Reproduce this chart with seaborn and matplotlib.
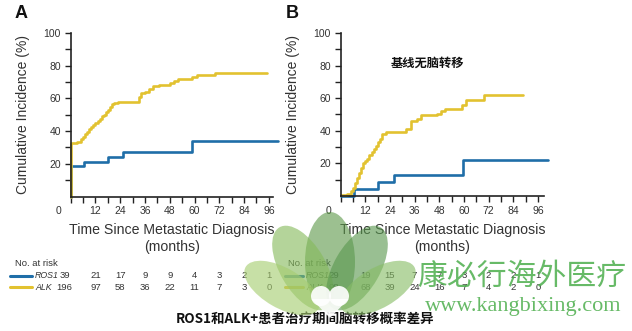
import numpy as np
import pandas as pd
import seaborn as sns
import matplotlib
matplotlib.use("Agg")
import matplotlib.pyplot as plt
import matplotlib.transforms as mtransforms
from matplotlib.patches import Ellipse, Polygon

# ---------------- data ----------------
a_ros1_t = [0, 0, 6.5, 18, 25.5, 59, 100.5]
a_ros1_v = [0, 18.5, 21, 24, 27.5, 34, 34]
a_alk_t = [0, 0, 3, 5, 6, 7, 8, 9, 10, 11, 12, 13, 14, 15, 16, 17, 18, 19, 20, 21, 23,
           33, 34, 36, 38, 40, 43, 46, 48, 50, 52, 59, 61, 70, 95]
a_alk_v = [0, 33, 33.5, 35, 36.5, 38, 39.5, 41, 42.5, 44, 45, 46, 47.5, 49, 50, 51.5, 53, 55, 56.5, 57, 58,
           61, 63, 64, 66, 67.5, 68, 68.5, 69.5, 70.5, 72, 73, 74.5, 75.5, 75.5]
b_ros1_t = [0, 6.5, 18.3, 26, 59.7, 101]
b_ros1_v = [0, 4, 8.8, 13, 22, 22]
b_alk_t = [0, 3, 5, 6, 7, 8, 9, 10, 11, 12, 13, 14, 15, 16, 17, 18, 19, 20, 22,
           32, 34, 37, 39, 47, 49, 51, 59, 61, 70, 89]
b_alk_v = [0.5, 1.5, 3, 5, 8, 11, 14, 17, 20, 21.5, 23, 25, 27, 29, 30.5, 33, 35, 38, 39.5,
           41, 46, 47.5, 49.5, 50.5, 52, 53.5, 56, 59, 62, 62]

risk_times = [0, 12, 24, 36, 48, 60, 72, 84, 96]
a_risk_ros1 = [39, 21, 17, 9, 9, 4, 3, 2, 1]
a_risk_alk = [196, 97, 58, 36, 22, 11, 7, 3, 0]
b_risk_ros1 = [29, 19, 15, 7, 7, 3, 2, 2, 1]
b_risk_alk = [98, 68, 39, 24, 16, 7, 4, 2, 0]

x_major = [0, 12, 24, 36, 48, 60, 72, 84, 96]
y_major = [20, 40, 60, 80, 100]

BLUE = "#1f6ea8"
YELLOW = "#e2c230"
TXT = "#333333"

W, H = 632, 331

sns.set_theme(style="white")
plt.rcParams["font.family"] = ["Liberation Sans", "DejaVu Sans"]
CJK = ["Noto Sans CJK SC", "DejaVu Sans"]

fig = plt.figure(figsize=(W / 100, H / 100), dpi=100)
fig.patch.set_facecolor("white")


def fx(px):
    return px / W


def fy(py):
    return 1 - py / H


panels = [
    dict(pos=[fx(70.7), fy(196.5), fx(202.3), 163.5 / H], xmax=98, letter="A", lx=21,
         ros1=(a_ros1_t, a_ros1_v), alk=(a_alk_t, a_alk_v),
         risk=(a_risk_ros1, a_risk_alk), nrx=15, linex=(10, 32), labx=35, x0=-3.0),
    dict(pos=[fx(340.7), fy(196), fx(203.3), 163 / H], xmax=99, letter="B", lx=292,
         ros1=(b_ros1_t, b_ros1_v), alk=(b_alk_t, b_alk_v),
         risk=(b_risk_ros1, b_risk_alk), nrx=288, linex=(285, 303), labx=306, x0=-3.2),
]

for p in panels:
    ax = fig.add_axes(p["pos"])
    df = pd.concat([
        pd.DataFrame({"t": p["ros1"][0], "v": p["ros1"][1], "g": "ROS1"}),
        pd.DataFrame({"t": p["alk"][0], "v": p["alk"][1], "g": "ALK"}),
    ], ignore_index=True)
    sns.lineplot(data=df, x="t", y="v", hue="g", palette={"ROS1": BLUE, "ALK": YELLOW},
                 estimator=None, sort=False, drawstyle="steps-post", linewidth=1.9,
                 legend=False, ax=ax, clip_on=False)
    ax.set_xlim(0, p["xmax"])
    ax.set_ylim(0, 100)
    for s in ["top", "right"]:
        ax.spines[s].set_visible(False)
    for s in ["left", "bottom"]:
        ax.spines[s].set_color("#222222")
        ax.spines[s].set_linewidth(1.2)
    ax.set_xticks(x_major)
    ax.set_xticks(np.arange(6, 97, 12), minor=True)
    ax.set_yticks(y_major)
    ax.set_yticks(np.arange(10, 100, 20), minor=True)
    ax.set_xticklabels([str(v) for v in x_major])
    ax.set_yticklabels([str(v) for v in y_major])
    ax.tick_params(axis="both", which="both", direction="out", length=4, width=1,
                   color="#222222", labelsize=7.5, labelcolor=TXT, pad=3)
    ax.tick_params(axis="x", which="both", bottom=True)
    ax.tick_params(axis="y", which="both", left=True)
    lbl0 = ax.get_xticklabels()[0]
    lbl0.set_transform(lbl0.get_transform() +
                       mtransforms.ScaledTranslation(-12 / 100, 0, fig.dpi_scale_trans))
    ax.set_xlabel("Time Since Metastatic Diagnosis\n(months)", fontsize=10.2, color=TXT,
                  linespacing=1.3, labelpad=5)
    ax.set_ylabel("Cumulative Incidence (%)", fontsize=10, color=TXT, labelpad=10)
    ax.patch.set_alpha(0)

    fig.text(fx(p["lx"]), fy(14), p["letter"], fontsize=13, fontweight="bold",
             color="#111111", ha="center", va="center")

    # risk table
    fig.text(fx(p["nrx"]), fy(264), "No. at risk", fontsize=6.8, color=TXT, ha="left", va="center")
    trans = mtransforms.blended_transform_factory(ax.transData, fig.transFigure)
    for row_y, name, col, vals in [(276, "ROS1", BLUE, p["risk"][0]), (287, "ALK", YELLOW, p["risk"][1])]:
        fig.add_artist(plt.Line2D([fx(p["linex"][0]), fx(p["linex"][1])], [fy(row_y), fy(row_y)],
                                  color=col, linewidth=2.2, transform=fig.transFigure))
        fig.text(fx(p["labx"]), fy(row_y), name, fontsize=6.3, style="italic", color=TXT,
                 ha="left", va="center")
        for t, v in zip(risk_times, vals):
            xx = t if t > 0 else p["x0"]
            fig.text(xx, fy(row_y), str(v), fontsize=6.8, color=TXT, ha="center", va="center",
                     transform=trans)

# annotation in panel B
fig.text(fx(427), fy(63), "基线无脑转移", fontsize=8.8, fontweight="bold", color="#111111",
         ha="center", va="center", family=CJK)

# watermark logo (translucent petals), drawn in pixel units via inches (dpi=100)
pt = fig.dpi_scale_trans


def pin(px, py):
    return (px / 100, (H - py) / 100)


petals = [
    (330, 262, 50, 100, 0, "#5f9a4c"),
    (303, 268, 46, 94, 30, "#86bb5c"),
    (357, 268, 46, 94, -30, "#5a9850"),
    (282, 288, 40, 84, 60, "#a6cd70"),
    (378, 288, 40, 84, -60, "#88bd66"),
]
for (cx, cy, w, h, ang, c) in petals:
    fig.add_artist(Ellipse(pin(cx, cy), w / 100, h / 100, angle=ang, transform=pt,
                           facecolor=c, edgecolor="none", alpha=0.62, zorder=5))
for cx in (321, 339):
    fig.add_artist(Ellipse(pin(cx, 296), 20 / 100, 20 / 100, transform=pt,
                           facecolor="white", edgecolor="none", alpha=0.9, zorder=5.5))
fig.add_artist(Polygon([pin(311.5, 299), pin(348.5, 299), pin(330, 318)], closed=True,
                       transform=pt, facecolor="white", edgecolor="none", alpha=0.9, zorder=5.5))

fig.text(fx(522), fy(276), "康必行海外医疗", fontsize=21.5, color="#4cae4c", alpha=0.85,
         ha="center", va="center", family=CJK, zorder=6)
fig.text(fx(523), fy(306), "www.kangbixing.com", fontsize=16, color="#4cae4c", alpha=0.85,
         ha="center", va="center", family=["Liberation Serif", "DejaVu Serif"], zorder=6)

fig.text(fx(305), fy(319), "ROS1和ALK+患者治疗期间脑转移概率差异", fontsize=9.7,
         fontweight="bold", color="#111111", ha="center", va="center", family=CJK, zorder=4)

fig.savefig("out.png", dpi=100, facecolor="white")
